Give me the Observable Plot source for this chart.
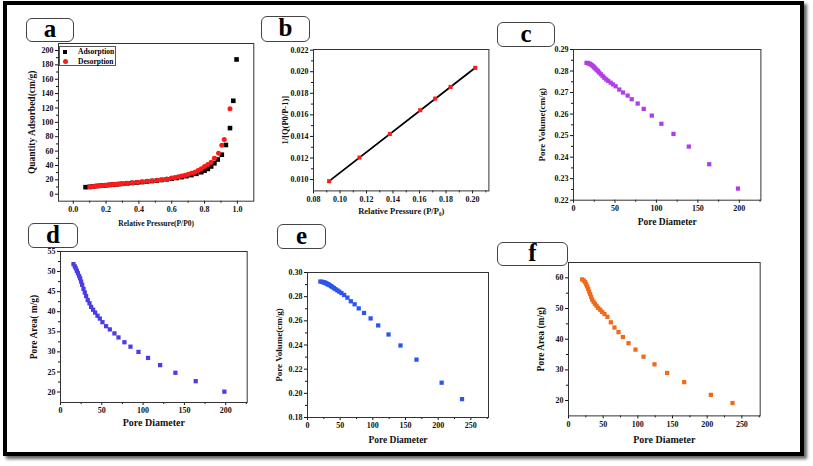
<!DOCTYPE html>
<html><head><meta charset="utf-8">
<script src="https://cdn.jsdelivr.net/npm/d3@7"></script>
<script src="https://cdn.jsdelivr.net/npm/@observablehq/plot@0.6"></script>
<style>
body{margin:0;background:#fff;}
#fig{position:relative;width:813px;height:466px;overflow:hidden;background:#fff;font-family:"Liberation Serif",serif;}
#outer{position:absolute;left:3px;top:1px;width:793px;height:447px;border:4px solid #000;box-shadow:3px 3px 3px #666;}
.lab{position:absolute;border:1.5px solid #444;border-radius:6px;background:#fff;font:bold 25px "Liberation Serif",serif;text-align:center;box-sizing:border-box;}
.pnl{position:absolute;}
.pnl svg{overflow:visible;}
.legend{position:absolute;border:1px solid #555;background:#fff;font:bold 7.5px "Liberation Serif",serif;box-sizing:border-box;}
</style></head>
<body>
<div id="fig"><div id="outer"></div></div>
<script>
// ---- panel a: N2 isotherm ----
const adsX = [0.075,0.10,0.12,0.14,0.16,0.18,0.20,0.22,0.24,0.26,0.28,0.30,0.33,0.36,0.39,0.42,0.45,0.48,0.51,0.54,0.57,0.60,0.63,0.66,0.69,0.72,0.75,0.78,0.80,0.82,0.84,0.86,0.88,0.905,0.93,0.955,0.975,0.995];
const adsY = [9.8,10.3,10.8,11.3,11.7,12.1,12.5,12.9,13.3,13.7,14.1,14.5,15.1,15.7,16.3,16.9,17.6,18.3,19.0,19.8,20.7,21.6,22.6,23.8,25.1,26.6,28.4,30.6,32.8,35.2,38.6,43.0,48.3,55.0,68.5,92.0,130.0,187.5];
const desX = [0.10,0.12,0.14,0.16,0.18,0.20,0.22,0.24,0.26,0.28,0.30,0.33,0.36,0.39,0.42,0.45,0.48,0.51,0.54,0.57,0.60,0.62,0.64,0.66,0.68,0.70,0.72,0.74,0.76,0.78,0.80,0.82,0.84,0.86,0.885,0.905,0.92,0.955];
const desY = [10.2,10.8,11.3,11.8,12.2,12.6,13.0,13.4,13.8,14.2,14.6,15.2,15.9,16.5,17.2,17.9,18.7,19.5,20.3,21.3,22.4,23.3,24.2,25.3,26.4,27.7,29.1,30.7,33.0,35.5,38.5,41.3,44.5,50.0,57.0,68.0,76.0,119.0];
// ---- panel b: BET plot ----
const betX = [0.0918,0.1147,0.1376,0.1605,0.1718,0.1834,0.2020];
const betY = [0.00985,0.01204,0.01423,0.01643,0.01751,0.01859,0.02036];
// ---- panels c, d: sample 1 ----
const pd1 = [15.7,17.3,18.5,19.8,21,22.6,23.8,25,26.2,27.8,29.4,31,33,35.1,37.1,39.5,41.9,44.8,47.6,50.8,55.2,59.7,65.3,70.2,77.4,84.7,94.4,106,120.6,139.1,163.7,198.4];
const vol1 = [0.2838,0.2837,0.2835,0.2833,0.2830,0.2826,0.2822,0.2817,0.2812,0.2806,0.2800,0.2793,0.2785,0.2777,0.2769,0.2761,0.2754,0.2746,0.2738,0.2729,0.2714,0.2700,0.2686,0.2669,0.2649,0.2624,0.2593,0.2555,0.2508,0.2449,0.2367,0.2254];
const area1 = [51.85,51.3,50.8,50.2,49.6,48.9,48.3,47.5,46.7,45.7,44.8,43.9,42.9,42.1,41.2,40.5,39.8,39.0,38.3,37.4,36.4,35.6,34.6,33.6,32.4,31.3,30.0,28.5,26.7,24.8,22.7,20.1];
// ---- panels e, f: sample 2 ----
const pd2 = [19.7,22.1,24,25.5,26.9,28.4,29.8,31.2,32.7,34.1,36.1,38,40.4,42.8,45.7,48.6,51.9,56.1,61.1,66.3,72.1,78.4,86.5,96.6,108.2,124,142.3,166.8,205.3,236.5];
const vol2 = [0.2925,0.2923,0.2920,0.2918,0.2915,0.2911,0.2907,0.2903,0.2899,0.2894,0.2887,0.2880,0.2871,0.2862,0.2852,0.2842,0.2830,0.2814,0.2792,0.2762,0.2737,0.2703,0.2665,0.2620,0.2562,0.2487,0.2396,0.2279,0.2088,0.1952];
const area2 = [59.5,59.1,58.6,57.9,57.2,56.4,55.5,54.7,53.8,52.9,52.2,51.5,50.9,50.2,49.6,48.9,48.2,47.3,45.5,43.8,42.3,40.7,38.7,36.6,34.3,31.8,29.0,26.0,21.85,19.2];

// tick values
const aXt = [0,0.2,0.4,0.6,0.8,1.0], aXm = [0.1,0.3,0.5,0.7,0.9];
const aYt = [0,20,40,60,80,100,120,140,160,180,200], aYm = [10,30,50,70,90,110,130,150,170,190];
const bXt = [0.08,0.10,0.12,0.14,0.16,0.18,0.20], bXm = [0.09,0.11,0.13,0.15,0.17,0.19,0.21];
const bYt = [0.010,0.012,0.014,0.016,0.018,0.020,0.022], bYm = [0.011,0.013,0.015,0.017,0.019,0.021];
const pdT1 = [0,50,100,150,200], pdM1 = [25,75,125,175,225];
const cYt = [0.22,0.23,0.24,0.25,0.26,0.27,0.28,0.29], cYm = [0.225,0.235,0.245,0.255,0.265,0.275,0.285];
const dYt = [20,25,30,35,40,45,50,55], dYm = [22.5,27.5,32.5,37.5,42.5,47.5,52.5];
const pdT2 = [0,50,100,150,200,250], pdM2 = [25,75,125,175,225,275];
const eYt = [0.18,0.20,0.22,0.24,0.26,0.28,0.30], eYm = [0.19,0.21,0.23,0.25,0.27,0.29];
const fYt = [20,30,40,50,60], fYm = [25,35,45,55];

const fig = document.getElementById("fig");

function panel(o) {
  const [l, t, r, b] = o.frame;
  const [mt, mr, mb, ml] = o.m;
  const w = r - l + ml + mr, h = b - t + mt + mb;
  const plot = Plot.plot({
    width: w, height: h,
    marginTop: mt, marginRight: mr, marginBottom: mb, marginLeft: ml,
    style: {fontFamily: "Liberation Serif", fontWeight: "bold", fontSize: "8px", background: "transparent", color: "#111"},
    x: {domain: o.xd}, y: {domain: o.yd},
    marks: [
      Plot.axisX(o.xt, {tickSize: 3, tickPadding: 2, tickFormat: o.xf, label: o.xl, labelAnchor: "center", labelOffset: o.xlo, labelArrow: false}),
      Plot.axisX(o.xm, {tickSize: 2, tickFormat: () => "", label: null}),
      Plot.axisY(o.yt, {tickSize: 3, tickPadding: 2, tickFormat: o.yf, label: o.yl, labelAnchor: "center", labelOffset: o.ylo, labelArrow: false}),
      Plot.axisY(o.ym, {tickSize: 2, tickFormat: () => "", label: null}),
      ...o.marks,
      Plot.frame({stroke: "#333", strokeWidth: 1})
    ]
  });
  const div = document.createElement("div");
  div.className = "pnl";
  div.style.left = (l - ml) + "px";
  div.style.top = (t - mt) + "px";
  div.appendChild(plot);
  fig.appendChild(div);
  plot.querySelectorAll('[aria-label="x-axis label"] text').forEach(e => e.setAttribute("font-size", o.xls));
  plot.querySelectorAll('[aria-label="y-axis label"] text').forEach(e => e.setAttribute("font-size", o.yls));
  plot.querySelectorAll('[aria-label="x-axis label"]').forEach(e => e.setAttribute("font-size", o.xls));
  plot.querySelectorAll('[aria-label="y-axis label"]').forEach(e => e.setAttribute("font-size", o.yls));
}

function label(txt, l, t, w, h) {
  const d = document.createElement("div");
  d.className = "lab";
  d.textContent = txt;
  Object.assign(d.style, {left: l + "px", top: t + "px", width: w + "px", height: h + "px", lineHeight: (h - 4) + "px"});
  fig.appendChild(d);
}

const sq = (xs, ys, fill, r) => Plot.dot(xs.map((x, i) => ({x, y: ys[i]})), {x: "x", y: "y", symbol: "square", r, fill, stroke: "none"});
const f1 = d3.format(".1f"), f2 = d3.format(".2f"), f3 = d3.format(".3f"), f0 = d3.format("d");

// a
panel({frame: [57.7, 43, 253, 200.7], m: [4, 4, 30, 33],
  xd: [-0.09, 1.1], yd: [-9.7, 209.7], xt: aXt, xm: aXm, yt: aYt, ym: aYm, xf: f1, yf: f0,
  xl: "Relative Pressure(P/P0)", xlo: 25, xls: "7.5px", yl: "Quantity Adsorbed(cm/g)", ylo: 30, yls: "9.5px",
  marks: [sq(adsX, adsY, "#000", 2.6),
    Plot.dot(desX.map((x, i) => ({x, y: desY[i]})), {x: "x", y: "y", r: 2.5, fill: "#ff1a1a", stroke: "none"})]});
// b
panel({frame: [313.3, 49.3, 488.7, 190.7], m: [4, 4, 30, 34],
  xd: [0.08, 0.2123], yd: [0.00895, 0.02206], xt: bXt, xm: bXm, yt: bYt, ym: bYm, xf: f2, yf: f3,
  xl: "Relative Pressure (P/P\u2080)", xlo: 23, xls: "8.5px", yl: "1/[Q(P0/P-1)]", ylo: 32, yls: "8.5px",
  marks: [Plot.linearRegressionY(betX.map((x, i) => ({x, y: betY[i]})), {x: "x", y: "y", stroke: "#000", strokeWidth: 1.8, ci: 0}),
    sq(betX, betY, "#ff1a1a", 2.3)]});
// c
panel({frame: [573.3, 49.3, 760.7, 200], m: [4, 4, 30, 37],
  xd: [0, 226], yd: [0.22, 0.29], xt: pdT1, xm: pdM1, yt: cYt, ym: cYm, xf: f0, yf: f2,
  xl: "Pore Diameter", xlo: 25, xls: "9.5px", yl: "Pore Volume(cm/g)", ylo: 35, yls: "9px",
  marks: [sq(pd1, vol1, "#b03ee6", 2.4)]});
// d
panel({frame: [60, 250.7, 246.7, 401.7], m: [4, 4, 30, 32],
  xd: [0, 226], yd: [17.4, 55], xt: pdT1, xm: pdM1, yt: dYt, ym: dYm, xf: f0, yf: f0,
  xl: "Pore Diameter", xlo: 24, xls: "10px", yl: "Pore Area( m/g)", ylo: 30, yls: "9.5px",
  marks: [sq(pd1, area1, "#4b3ce6", 2.4)]});
// e
panel({frame: [306.7, 271.7, 487.7, 416.7], m: [4, 4, 30, 34],
  xd: [0, 277], yd: [0.18, 0.30], xt: pdT2, xm: pdM2, yt: eYt, ym: eYm, xf: f0, yf: f2,
  xl: "Pore Diameter", xlo: 25, xls: "9.5px", yl: "Pore Volume(cm/g)", ylo: 32, yls: "9px",
  marks: [sq(pd2, vol2, "#2b55ee", 2.4)]});
// f
panel({frame: [568.3, 262.3, 760, 415.7], m: [4, 4, 32, 33],
  xd: [0, 276.4], yd: [15, 65], xt: pdT2, xm: pdM2, yt: fYt, ym: fYm, xf: f0, yf: f0,
  xl: "Pore Diameter", xlo: 27, xls: "10px", yl: "Pore Area (m/g)", ylo: 31, yls: "9.5px",
  marks: [sq(pd2, area2, "#f06a1c", 2.4)]});

// panel letter boxes
label("a", 26, 18, 48, 24);
label("b", 261, 16, 49, 26);
label("c", 497, 22, 58, 25);
label("d", 28, 223, 50, 25);
label("e", 277, 224, 49, 25);
label("f", 497, 242, 71, 24);

// legend of panel a
const lg = document.createElement("div");
lg.className = "legend";
Object.assign(lg.style, {left: "59px", top: "46px", width: "57px", height: "20px"});
lg.innerHTML = '<div style="position:absolute;left:3px;top:3px;width:4px;height:4px;background:#000"></div>' +
  '<div style="position:absolute;left:18px;top:0px;line-height:10px">Adsorption</div>' +
  '<div style="position:absolute;left:3px;top:12px;width:5px;height:5px;border-radius:50%;background:#ff1a1a"></div>' +
  '<div style="position:absolute;left:18px;top:9.5px;line-height:10px">Desorption</div>';
fig.appendChild(lg);
</script>
</body></html>
